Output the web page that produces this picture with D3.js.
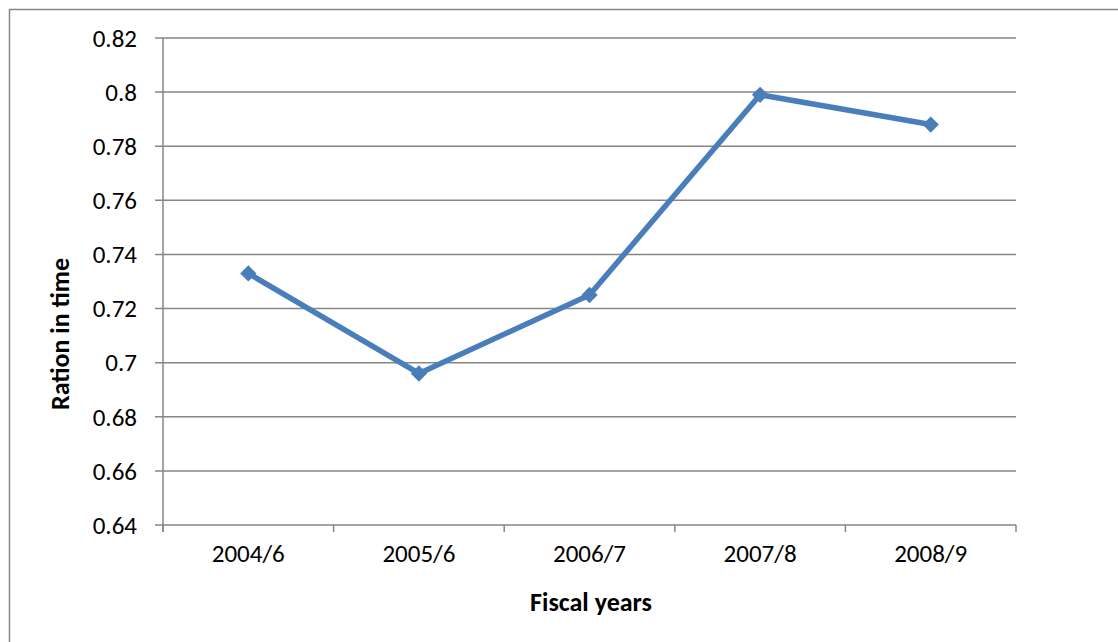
<!DOCTYPE html>
<html>
<head>
<meta charset="utf-8">
<script src="https://cdn.jsdelivr.net/npm/d3@7"></script>
<style>
  body { margin: 0; background: #fff; }
  text { font-family: Calibri, Carlito, Lato, sans-serif; fill: #000; }
</style>
</head>
<body>
<svg width="1118" height="642"></svg>
<script>
var years = ["2004/6", "2005/6", "2006/7", "2007/8", "2008/9"];
var ratio = [0.733, 0.696, 0.725, 0.799, 0.788];
var yTicks = [0.64, 0.66, 0.68, 0.7, 0.72, 0.74, 0.76, 0.78, 0.8, 0.82];

var svg = d3.select("svg"),
    plotLeft = 163, plotRight = 1016, plotTop = 38, plotBottom = 525;

var gridColor = "#868686",
    lineColor = "#4a7ebb";

// outer chart frame
svg.append("rect")
    .attr("x", 9.5).attr("y", 9.5)
    .attr("width", 1130).attr("height", 650)
    .attr("fill", "none")
    .attr("stroke", gridColor)
    .attr("stroke-width", 1.5);

var x = d3.scaleBand().domain(years).range([plotLeft, plotRight]);
var y = d3.scaleLinear().domain([0.64, 0.82]).range([plotBottom, plotTop]);

// gridlines
svg.append("g")
  .selectAll("line")
  .data(yTicks)
  .enter().append("line")
    .attr("x1", plotLeft - 8).attr("x2", plotRight)
    .attr("y1", function(d) { return y(d); })
    .attr("y2", function(d) { return y(d); })
    .attr("stroke", gridColor)
    .attr("stroke-width", 1.5);

// y axis line
svg.append("line")
    .attr("x1", plotLeft).attr("x2", plotLeft)
    .attr("y1", plotTop).attr("y2", plotBottom + 7)
    .attr("stroke", gridColor).attr("stroke-width", 1.5);

// x tick marks at band edges
var edges = years.map(function(d) { return x(d); }).concat([plotRight]);
svg.append("g")
  .selectAll("line")
  .data(edges)
  .enter().append("line")
    .attr("x1", function(d) { return d; })
    .attr("x2", function(d) { return d; })
    .attr("y1", plotBottom).attr("y2", plotBottom + 7)
    .attr("stroke", gridColor).attr("stroke-width", 1.5);

// y tick labels
svg.append("g")
  .selectAll("text")
  .data(yTicks)
  .enter().append("text")
    .attr("x", 137)
    .attr("y", function(d) { return y(d); })
    .attr("dy", "0.35em")
    .attr("text-anchor", "end")
    .style("font-size", "25px")
    .text(function(d) { return String(+d.toFixed(2)); });

// x tick labels
svg.append("g")
  .selectAll("text")
  .data(years)
  .enter().append("text")
    .attr("x", function(d) { return x(d) + x.bandwidth() / 2; })
    .attr("y", 562)
    .attr("text-anchor", "middle")
    .style("font-size", "25px")
    .text(function(d) { return d; });

// axis titles
svg.append("text")
    .attr("x", 591).attr("y", 611)
    .attr("text-anchor", "middle")
    .style("font-size", "26px")
    .style("font-weight", "bold")
    .text("Fiscal years");

svg.append("text")
    .attr("transform", "translate(69,334) rotate(-90)")
    .attr("text-anchor", "middle")
    .style("font-size", "26px")
    .style("font-weight", "bold")
    .text("Ration in time");

// series line
var pts = years.map(function(d, i) { return { year: d, value: ratio[i] }; });
var line = d3.line()
    .x(function(d) { return x(d.year) + x.bandwidth() / 2; })
    .y(function(d) { return y(d.value); });

svg.append("path")
    .datum(pts)
    .attr("d", line)
    .attr("fill", "none")
    .attr("stroke", lineColor)
    .attr("stroke-width", 5.5)
    .attr("stroke-linejoin", "round");

svg.append("g")
  .selectAll("path")
  .data(pts)
  .enter().append("path")
    .attr("d", d3.symbol().type(d3.symbolDiamond2).size(170))
    .attr("transform", function(d) {
      return "translate(" + (x(d.year) + x.bandwidth() / 2) + "," + y(d.value) + ")";
    })
    .attr("fill", lineColor);
</script>
</body>
</html>
